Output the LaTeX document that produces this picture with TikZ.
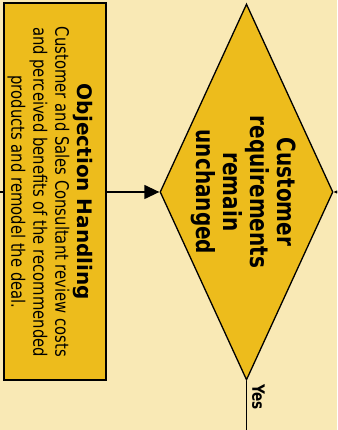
\documentclass[tikz,border=0pt]{standalone}
\usepackage{fontspec}
\setmainfont{DejaVu Sans}[FakeStretch=0.8]
\newfontfamily\titlefont{DejaVu Sans}
\usetikzlibrary{arrows.meta,shapes.geometric}
\definecolor{paper}{RGB}{249,233,181}
\definecolor{gold}{RGB}{237,188,28}

\begin{document}
\begin{tikzpicture}[x=1pt, y=1pt, line width=1.3pt,
    flow/.style={-{Triangle[length=15pt,width=14pt]}},
    procbox/.style={rectangle, draw=black, fill=gold, line width=2pt, rotate=-90,
      minimum width=377pt, minimum height=102pt, inner sep=0pt},
    decision/.style={diamond, draw=black, fill=gold, rotate=-90,
      minimum width=376pt, minimum height=173pt, inner sep=0pt}]
  \useasboundingbox (0,0) rectangle (337,430);
  \fill[paper] (0,0) rectangle (337,430);
  \clip (0,0) rectangle (337,430);

  \node[procbox] (objection) at (55,238) {};
  \node[rotate=-90, align=center, font=\fontsize{18.5}{22}\selectfont] (objectiontext) at (50,238)
    {{\titlefont\bfseries\fontsize{20}{22}\selectfont Objection Handling}\\
    Customer and Sales Consultant review costs\\
    and perceived benefits of the recommended\\
    products and remodel the deal.};
  \node[decision] (check) at (246.5,238) {};
  \node[rotate=-90, align=center, font=\bfseries\fontsize{25}{27}\selectfont] (checktext) at (244,238) {Customer\\requirements\\remain\\unchanged};
  \node[rotate=-90, font=\bfseries\fontsize{17}{17}\selectfont] (yeslabel) at (258.5,33) {Yes};

  % loose ends beyond the frame
  \coordinate (leftin) at (-20,238);
  \coordinate (rightin) at (360,238);
  \coordinate (yesend) at (246.5,-10);

  \draw (leftin) -- (objection);
  \draw[flow] (objection) -- (check);
  \draw[flow] (rightin) -- (check);
  \draw (check) -- (yesend);
\end{tikzpicture}
\end{document}
